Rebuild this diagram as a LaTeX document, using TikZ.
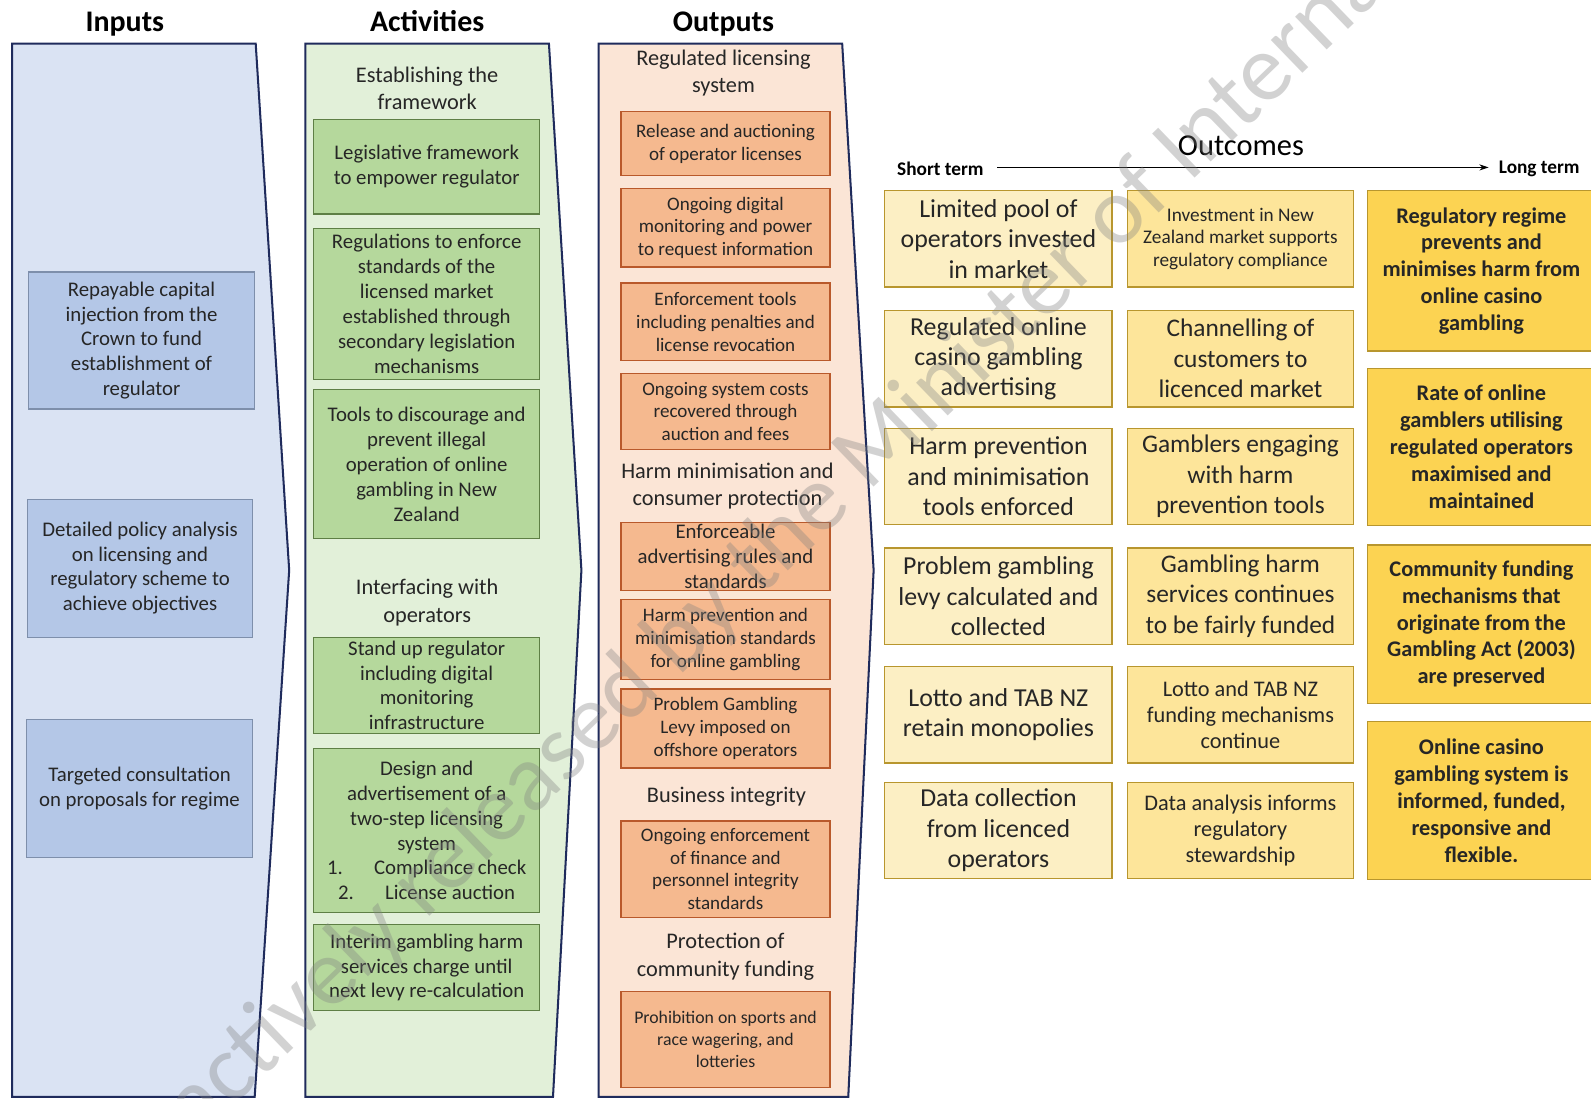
\documentclass[tikz,border=0pt]{standalone}
\usepackage{fontspec}
\setmainfont{Carlito}
\usetikzlibrary{arrows.meta}
\definecolor{colborder}{HTML}{1F2B5C}
\definecolor{txt}{HTML}{262626}
\definecolor{inbg}{HTML}{DAE3F3}
\definecolor{inboxc}{HTML}{B4C7E7}
\definecolor{inboxd}{HTML}{7E8FAB}
\definecolor{actbg}{HTML}{E2F0D9}
\definecolor{actboxc}{HTML}{B5D89C}
\definecolor{actboxd}{HTML}{5E7F45}
\definecolor{outbg}{HTML}{FBE5D6}
\definecolor{outboxc}{HTML}{F5B98F}
\definecolor{outboxd}{HTML}{B9592B}
\definecolor{ocA}{HTML}{FCEFC4}
\definecolor{ocB}{HTML}{FDE59A}
\definecolor{ocC}{HTML}{FCD352}
\definecolor{ocd}{HTML}{B8962E}
\begin{document}
\begin{tikzpicture}[x=1pt,y=-1pt,
  every node/.style={text=txt},
  column/.style={draw=colborder, line width=2pt, line join=miter},
  title/.style={font=\bfseries\fontsize{29.5}{32}\selectfont, text=black, anchor=base},
  head/.style={align=center, font=\fontsize{22}{27}\selectfont},
  basebox/.style={draw, line width=1.3pt, align=center, inner sep=0pt},
  inbox/.style={basebox, fill=inboxc, draw=inboxd, font=\fontsize{20.5}{24.3}\selectfont},
  actbox/.style={basebox, fill=actboxc, draw=actboxd, font=\fontsize{20.5}{24.5}\selectfont},
  outbox/.style={basebox, fill=outboxc, draw=outboxd, font=\fontsize{18.8}{22.5}\selectfont},
  ocbox/.style={basebox, draw=ocd, minimum height=95},
  ocone/.style={ocbox, fill=ocA, minimum width=224, font=\fontsize{25.5}{30}\selectfont},
  octwo/.style={ocbox, fill=ocB, minimum width=223, font=\fontsize{25}{30}\selectfont},
  octhree/.style={ocbox, fill=ocC, minimum width=224, font=\bfseries\fontsize{22}{26.5}\selectfont},
  termlab/.style={font=\bfseries\fontsize{19}{22}\selectfont, text=black, inner sep=0pt}
]
\useasboundingbox[fill=white] (0,0) rectangle (1568,1083);

% column shapes
\draw[column, fill=inbg] (12,43) -- (252,43) -- (285,562) -- (251,1081) -- (12,1081) -- cycle;
\draw[column, fill=actbg] (301,43) -- (541,43) -- (573,562) -- (545,1081) -- (301,1081) -- cycle;
\draw[column, fill=outbg] (590,43) -- (830,43) -- (861,562) -- (836,1081) -- (590,1081) -- cycle;

% titles
\node[title] (tin) at (123,31) {Inputs};
\node[title] (tact) at (421,31) {Activities};
\node[title] (tout) at (713,31) {Outputs};

% inputs
\node[inbox, minimum width=223, minimum height=135] (in1) at (139.5,335.5) {Repayable capital\\injection from the\\Crown to fund\\establishment of\\regulator};
\node[inbox, minimum width=222, minimum height=136] (in2) at (138,560) {Detailed policy analysis\\on licensing and\\regulatory scheme to\\achieve objectives};
\node[inbox, minimum width=223, minimum height=136] (in3) at (137.5,777) {Targeted consultation\\on proposals for regime};

% activities
\node[head] (ah1) at (421,87) {Establishing the\\framework};
\node[actbox, minimum width=223, minimum height=93] (a1) at (420.5,164.5) {Legislative framework\\to empower regulator};
\node[actbox, minimum width=223, minimum height=149] (a2) at (420.5,299.5) {Regulations to enforce\\standards of the\\licensed market\\established through\\secondary legislation\\mechanisms};
\node[actbox, minimum width=223, minimum height=147] (a3) at (420.5,457.5) {Tools to discourage and\\prevent illegal\\operation of online\\gambling in New\\Zealand};
\node[head] (ah2) at (421,594) {Interfacing with\\operators};
\node[actbox, minimum width=223, minimum height=95] (a4) at (420.5,675.5) {Stand up regulator\\including digital\\monitoring\\infrastructure};
\node[actbox, minimum width=223, minimum height=161] (a5) at (420.5,818.5) {Design and\\advertisement of a\\two-step licensing\\system\\1.\hspace{1.5em}Compliance check\\2.\hspace{1.5em}License auction};
\node[actbox, minimum width=223, minimum height=85] (a6) at (420.5,953.5) {Interim gambling harm\\services charge until\\next levy re-calculation};

% outputs
\node[head] (oh1) at (713,72) {Regulated licensing\\system};
\node[outbox, minimum width=206, minimum height=63] (o1) at (715,141.5) {Release and auctioning\\of operator licenses};
\node[outbox, minimum width=206, minimum height=77] (o2) at (715,224.5) {Ongoing digital\\monitoring and power\\to request information};
\node[outbox, minimum width=206, minimum height=76] (o3) at (715,317) {Enforcement tools\\including penalties and\\license revocation};
\node[outbox, minimum width=206, minimum height=75] (o4) at (715,405.5) {Ongoing system costs\\recovered through\\auction and fees};
\node[head] (oh2) at (717,479) {Harm minimisation and\\consumer protection};
\node[outbox, minimum width=206, minimum height=67, font=\fontsize{20.5}{24.5}\selectfont] (o5) at (715,548.5) {Enforceable\\advertising rules and\\standards};
\node[outbox, minimum width=206, minimum height=79] (o6) at (715,630.5) {Harm prevention and\\minimisation standards\\for online gambling};
\node[outbox, minimum width=206, minimum height=78] (o7) at (715,718) {Problem Gambling\\Levy imposed on\\offshore operators};
\node[head] (oh3) at (716,785) {Business integrity};
\node[outbox, minimum width=206, minimum height=95] (o8) at (715,856.5) {Ongoing enforcement\\of finance and\\personnel integrity\\standards};
\node[head] (oh4) at (715,943) {Protection of\\community funding};
\node[outbox, minimum width=206, minimum height=95, font=\fontsize{17.5}{21.5}\selectfont] (o9) at (715,1024.5) {Prohibition on sports and\\race wagering, and\\lotteries};

% outcomes header
\node[font=\fontsize{30}{32}\selectfont, text=black] (toc) at (1223,144) {Outcomes};
\node[termlab, anchor=west] (st) at (884,166) {Short term};
\node[termlab, anchor=east] (lt) at (1557,166) {Long term};
\coordinate (ast) at (983,165);
\coordinate (alt) at (1467,165);
\draw[line width=1.1pt, -{Stealth[length=9pt,width=6pt]}] (ast) -- (alt);

% outcomes col 1
\node[ocone] (c11) at (984,235.5) {Limited pool of\\operators invested\\in market};
\node[ocone] (c12) at (984,353.5) {Regulated online\\casino gambling\\advertising};
\node[ocone] (c13) at (984,469.5) {Harm prevention\\and minimisation\\tools enforced};
\node[ocone] (c14) at (984,587.5) {Problem gambling\\levy calculated and\\collected};
\node[ocone] (c15) at (984,704.5) {Lotto and TAB NZ\\retain monopolies};
\node[ocone] (c16) at (984,818.5) {Data collection\\from licenced\\operators};

% outcomes col 2
\node[octwo, font=\fontsize{19}{22.5}\selectfont] (c21) at (1222.5,235.5) {Investment in New\\Zealand market supports\\regulatory compliance};
\node[octwo] (c22) at (1222.5,353.5) {Channelling of\\customers to\\licenced market};
\node[octwo] (c23) at (1222.5,469.5) {Gamblers engaging\\with harm\\prevention tools};
\node[octwo] (c24) at (1222.5,587.5) {Gambling harm\\services continues\\to be fairly funded};
\node[octwo, font=\fontsize{22}{26}\selectfont] (c25) at (1222.5,704.5) {Lotto and TAB NZ\\funding mechanisms\\continue};
\node[octwo, font=\fontsize{22}{26}\selectfont] (c26) at (1222.5,818.5) {Data analysis informs\\regulatory\\stewardship};

% outcomes col 3
\node[octhree, minimum height=158] (c31) at (1460,267) {Regulatory regime\\prevents and\\minimises harm from\\online casino\\gambling};
\node[octhree, minimum height=155] (c32) at (1460,440.5) {Rate of online\\gamblers utilising\\regulated operators\\maximised and\\maintained};
\node[octhree, minimum height=156] (c33) at (1460,615) {Community funding\\mechanisms that\\originate from the\\Gambling Act (2003)\\are preserved};
\node[octhree, minimum height=156] (c34) at (1460,789) {Online casino\\gambling system is\\informed, funded,\\responsive and\\flexible.};

% watermark
\node[rotate=44, font=\fontsize{94}{96}\selectfont, text=gray, opacity=0.35] (wm) at (822,484) {Proactively released by the Minister of Internal Affairs};
\end{tikzpicture}
\end{document}
